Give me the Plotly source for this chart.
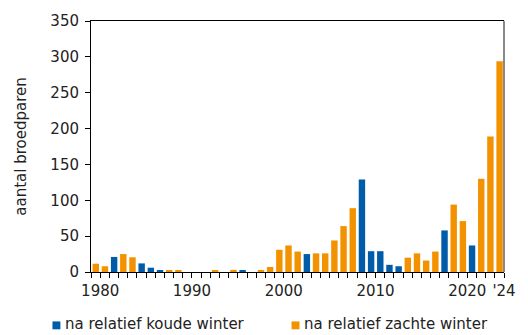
import plotly.graph_objects as go

# Broedparen per jaar, gesplitst naar het type voorafgaande winter
years = list(range(1980, 2025))
koude_winter = [
    None, None, 21, None, None, 12, 6, 2, None, None,   # 1980-1989
    None, None, None, None, None, None, 2, None, None, None,  # 1990-1999
    None, None, None, 25, None, None, None, None, None, 129,  # 2000-2009
    29, 29, 10, 8, None, None, None, None, 58, None,   # 2010-2019
    None, 37, None, None, None,                        # 2020-2024
]
zachte_winter = [
    11.5, 8, None, 25, 20.5, None, None, None, 2, 2,   # 1980-1989
    0, 0, 0, 2, 0, 3, None, 0, 2, 7,                   # 1990-1999
    31, 37, 28.5, None, 26, 26, 44, 64, 89, None,      # 2000-2009
    None, None, None, None, 20, 26, 16, 28.5, None, 94,  # 2010-2019
    71, None, 130, 189, 294,                           # 2020-2024
]
tick_years = [1980, 1990, 2000, 2010, 2020, 2024]
tick_text = ["1980", "1990", "2000", "2010", "2020", "'24"]
y_ticks = [0, 50, 100, 150, 200, 250, 300, 350]

series = [
    ("na relatief koude winter", koude_winter, "#005ca9"),
    ("na relatief zachte winter", zachte_winter, "#f39200"),
]

FONT = "DejaVu Sans"
TEXT = "#222222"

fig = go.Figure()
for name, values, color in series:
    fig.add_trace(go.Bar(
        x=years, y=values, name=name,
        marker=dict(color=color, line=dict(width=0)),
        width=0.70, offset=-0.83,
        showlegend=False,
    ))

# Legend drawn as small squares with labels below the plot
legend_pos = [(-0.0933, -0.067), (0.4856, 0.512)]
for (name, _, color), (sx, tx) in zip(series, legend_pos):
    fig.add_shape(type="rect", xref="paper", yref="paper",
                  x0=sx, x1=sx + 0.0192, y0=-0.2283, y1=-0.1969,
                  fillcolor=color, line=dict(width=0))
    fig.add_annotation(text=name, xref="paper", yref="paper",
                       x=tx, y=-0.2087, xanchor="left", yanchor="middle",
                       showarrow=False, font=dict(family=FONT, size=15, color=TEXT))

# Right-hand frame line
fig.add_shape(type="line", xref="paper", yref="paper", x0=1, x1=1, y0=0, y1=1,
              line=dict(color="#888888", width=2))

fig.update_layout(
    width=528, height=335,
    margin=dict(l=91, r=19, t=18, b=63),
    paper_bgcolor="white", plot_bgcolor="white",
    barmode="overlay",
    font=dict(family=FONT, size=15, color=TEXT),
    xaxis=dict(
        range=[1979, 2024],
        tickmode="array", tickvals=tick_years, ticktext=tick_text,
        ticks="outside", ticklen=5, tickcolor="black", tickwidth=1,
        minor=dict(tickmode="linear", tick0=1979, dtick=1,
                   ticks="outside", ticklen=5, tickcolor="black", tickwidth=1),
        showline=True, linecolor="black", linewidth=1, mirror=True,
        showgrid=False, zeroline=False,
        tickfont=dict(family=FONT, size=15, color=TEXT),
    ),
    yaxis=dict(
        range=[0, 350],
        tickmode="array", tickvals=y_ticks,
        ticks="outside", ticklen=5, tickcolor="black", tickwidth=1,
        ticklabelstandoff=3,
        showline=True, linecolor="black", linewidth=1,
        showgrid=False, zeroline=False,
        tickfont=dict(family=FONT, size=15, color=TEXT),
        title=dict(text="aantal broedparen", standoff=20,
                   font=dict(family=FONT, size=15, color=TEXT)),
    ),
)

fig.write_html("out.html")
